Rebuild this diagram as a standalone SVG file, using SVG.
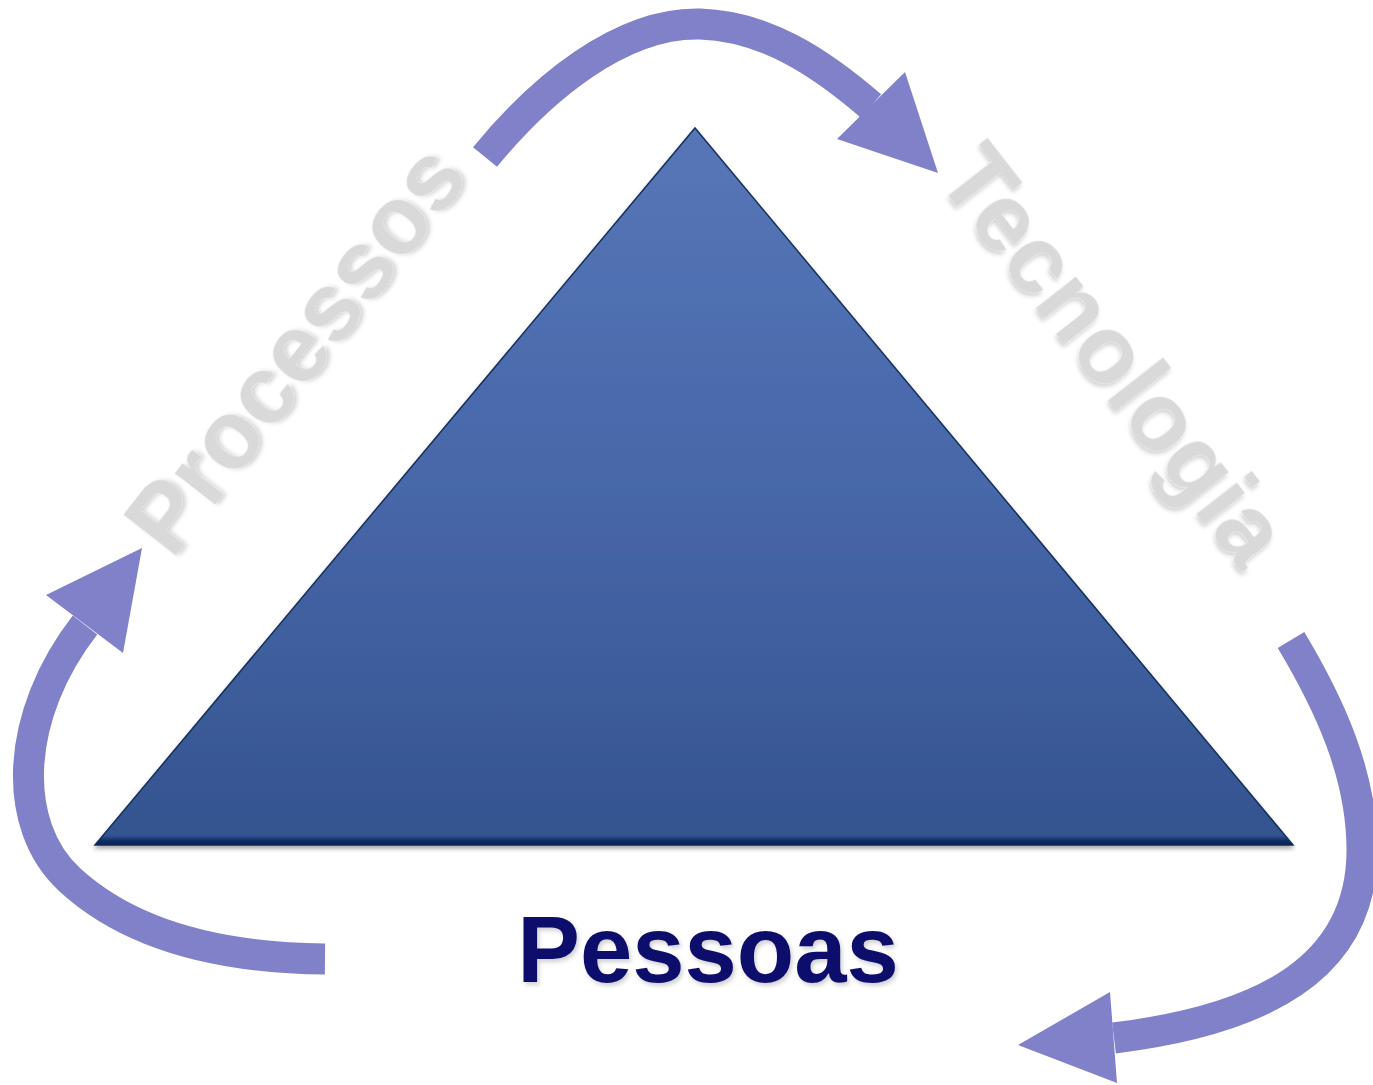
<svg xmlns="http://www.w3.org/2000/svg" width="1373" height="1085" viewBox="0 0 1373 1085">
  <style>
    .band { fill: none; stroke: #8181c9; stroke-width: 31; stroke-linecap: butt; }
    .head { fill: #8181c9; }
    .side { font-family: "Liberation Sans", Arial, sans-serif; font-weight: bold; font-size: 96px; fill: #d9d9d9; text-anchor: middle; filter: url(#txtShadow); }
    .main { font-family: "Liberation Sans", Arial, sans-serif; font-weight: bold; font-size: 94px; fill: #0c0c6c; text-anchor: middle; filter: url(#txtShadow2); }
  </style>
  <defs>
    <linearGradient id="triFill" x1="0" y1="0" x2="0" y2="1">
      <stop offset="0" stop-color="#5676b8"/>
      <stop offset="0.5" stop-color="#4767a9"/>
      <stop offset="1" stop-color="#34538f"/>
    </linearGradient>
    <linearGradient id="bevel" x1="0" y1="0" x2="0" y2="1">
      <stop offset="0" stop-color="#1a3a78" stop-opacity="0"/>
      <stop offset="0.55" stop-color="#0f2c64"/>
      <stop offset="1" stop-color="#0a2357"/>
    </linearGradient>
    <filter id="triShadow" x="-5%" y="-5%" width="110%" height="115%">
      <feDropShadow dx="0" dy="3" stdDeviation="2" flood-color="#000" flood-opacity="0.35"/>
    </filter>
    <filter id="txtShadow" x="-10%" y="-20%" width="120%" height="140%">
      <feDropShadow dx="2" dy="3" stdDeviation="2" flood-color="#000" flood-opacity="0.18"/>
    </filter>
    <filter id="txtShadow2" x="-10%" y="-20%" width="120%" height="140%">
      <feDropShadow dx="2" dy="3" stdDeviation="2" flood-color="#000" flood-opacity="0.18"/>
    </filter>
  </defs>
  <rect width="1373" height="1085" fill="#ffffff"/>

  <g id="node-triangle">
    <polygon points="695,128 1293,845 95,845" fill="url(#triFill)" stroke="#15305f" stroke-width="1.5" stroke-linejoin="miter" filter="url(#triShadow)"/>
    <polygon points="103.4,835 1284.7,835 1293,845 95,845" fill="url(#bevel)"/>
  </g>

  <g id="connectors">
    <path class="band" d="M485,157 C540,90 620,22 700,24 C765,26 820,62 871,106"/>
    <polygon class="head" points="938,173 905,72 837,139"/>
    <path class="band" d="M1291,640 C1330,705 1362,775 1362,850 C1362,970 1260,1020 1114,1038"/>
    <polygon class="head" points="1018,1045 1110,992 1117,1083"/>
    <path class="band" d="M325,959 C220,958 130,935 70,880 C10,825 15,715 85,625"/>
    <polygon class="head" points="142,548 46,595 123,653"/>
  </g>

  <g id="label-processos">
    <text class="side" transform="translate(321,369) rotate(-52)" x="0" y="0">Processos</text>
  </g>
  <g id="label-tecnologia">
    <text class="side" transform="translate(1088,375) rotate(52)" x="0" y="0">Tecnologia</text>
  </g>
  <g id="label-pessoas">
    <text class="main" x="708" y="982">Pessoas</text>
  </g>
</svg>
